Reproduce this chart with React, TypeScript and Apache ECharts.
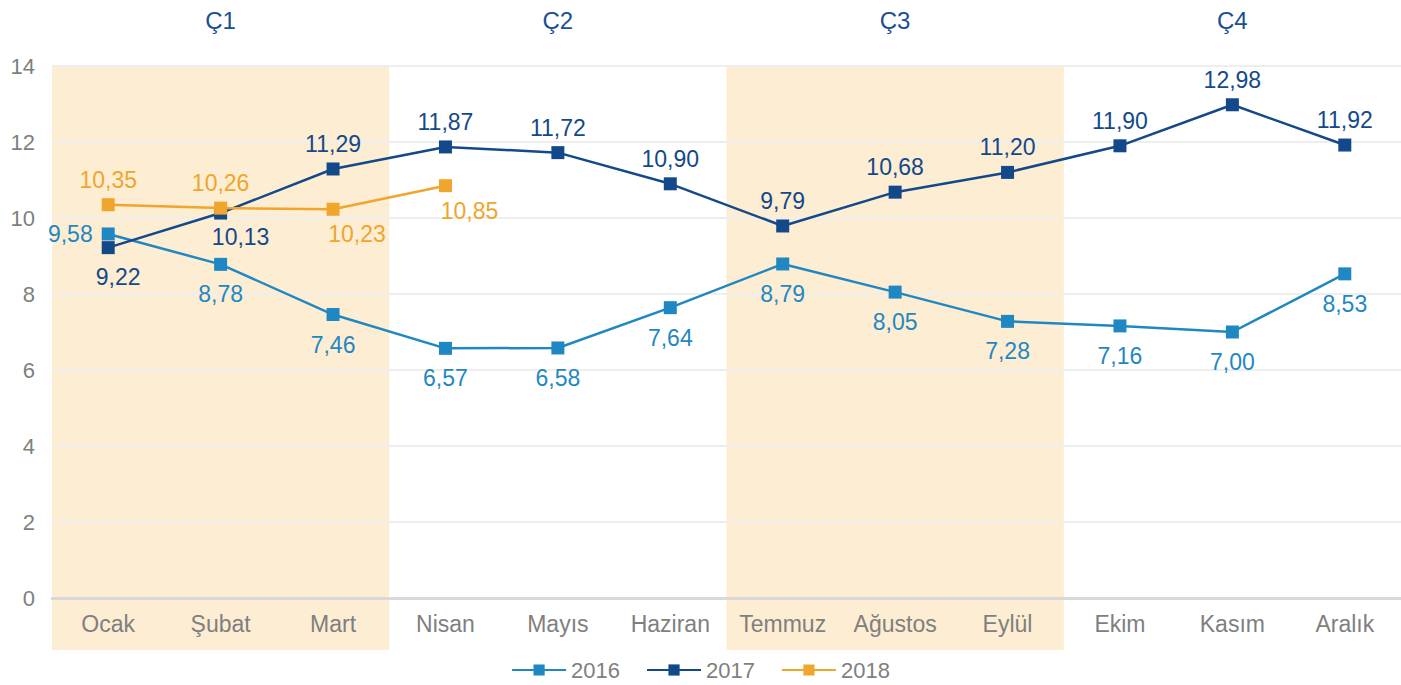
import React, { useEffect, useRef } from "react";
import * as echarts from "echarts";

const months = ["Ocak", "Şubat", "Mart", "Nisan", "Mayıs", "Haziran", "Temmuz", "Ağustos", "Eylül", "Ekim", "Kasım", "Aralık"];
const quarters = ["Ç1", "Ç2", "Ç3", "Ç4"];
const s2016 = [9.58, 8.78, 7.46, 6.57, 6.58, 7.64, 8.79, 8.05, 7.28, 7.16, 7.0, 8.53];
const s2017 = [9.22, 10.13, 11.29, 11.87, 11.72, 10.9, 9.79, 10.68, 11.2, 11.9, 12.98, 11.92];
const s2018 = [10.35, 10.26, 10.23, 10.85];
const shadedQuarters = [[0, 2], [6, 8]];

const C16 = "#1f88c2";
const C17 = "#13498a";
const C18 = "#f0a52c";
const GRAY = "#7f7f7f";
const FONT = "'Liberation Sans', Arial, Helvetica, sans-serif";
const FS = 23;

const fmt = (p: any) => {
  const v = Array.isArray(p.value) ? p.value[1] : p.value;
  return Number(v).toFixed(2).replace(".", ",");
};

export default function App() {
  const ref = useRef<HTMLDivElement>(null);
  useEffect(() => {
    document.body.style.margin = "0";
    const chart = echarts.init(ref.current!, undefined, { renderer: "svg" });
    const lbl = (color: string) => ({ show: true, color, fontSize: FS, fontFamily: FONT, formatter: fmt });
    const d16 = s2016.map((v, i) =>
      i === 0 ? { value: v, label: { position: "left", distance: 9 } } : { value: v }
    );
    const d17 = s2017.map((v, i) =>
      i === 0
        ? { value: v, label: { position: "bottom", distance: 11, offset: [10, 0] } }
        : i === 1
        ? { value: v, label: { position: "bottom", distance: 6, offset: [20, 0] } }
        : { value: v }
    );
    const d18 = s2018.map((v, i) =>
      i >= 2 ? { value: v, label: { position: "bottom", distance: 7, offset: [24, 0] } } : { value: v }
    );
    chart.setOption({
      animation: false,
      textStyle: { fontFamily: FONT },
      grid: { left: 52, right: 0, top: 66, bottom: 87, containLabel: false },
      legend: {
        top: 658,
        left: "center",
        itemWidth: 54,
        itemHeight: 14,
        itemGap: 26,
        padding: 0,
        textStyle: { color: GRAY, fontSize: 22, fontFamily: FONT, lineHeight: 24 },
        data: ["2016", "2017", "2018"],
      },
      xAxis: [
        {
          type: "category",
          data: months,
          axisLine: { show: true, lineStyle: { color: "#d9d9d9", width: 3 } },
          axisTick: { show: false },
          axisLabel: { color: GRAY, fontSize: FS, margin: 14, fontFamily: FONT, interval: 0 },
          splitLine: { show: false },
        },
        {
          type: "category",
          position: "top",
          data: quarters,
          axisLine: { show: false },
          axisTick: { show: false },
          axisLabel: { color: "#1a4f93", fontSize: 24, margin: 34, fontFamily: FONT, interval: 0 },
          splitLine: { show: false },
        },
      ],
      yAxis: {
        type: "value",
        min: 0,
        max: 14,
        interval: 2,
        axisLine: { show: false },
        axisTick: { show: false },
        axisLabel: { color: GRAY, fontSize: 22, margin: 17, fontFamily: FONT },
        splitLine: { lineStyle: { color: "#eeeeee", width: 2 } },
      },
      series: [
        {
          name: "2016",
          type: "line",
          data: d16,
          color: C16,
          symbol: "rect",
          symbolSize: 13,
          lineStyle: { width: 2.5, color: C16 },
          label: { ...lbl(C16), position: "bottom", distance: 12 },
          z: 3,
        },
        {
          name: "2017",
          type: "line",
          data: d17,
          color: C17,
          symbol: "rect",
          symbolSize: 13,
          lineStyle: { width: 2.5, color: C17 },
          label: { ...lbl(C17), position: "top", distance: 7 },
          z: 4,
        },
        {
          name: "2018",
          type: "line",
          data: d18,
          color: C18,
          symbol: "rect",
          symbolSize: 13,
          lineStyle: { width: 2.5, color: C18 },
          label: { ...lbl(C18), position: "top", distance: 7 },
          z: 5,
        },
      ],
    });
    const c0 = chart.convertToPixel({ xAxisIndex: 0 }, 0) as number;
    const c1 = chart.convertToPixel({ xAxisIndex: 0 }, 1) as number;
    const band = c1 - c0;
    const yTop = chart.convertToPixel({ yAxisIndex: 0 }, 14) as number;
    const yZero = chart.convertToPixel({ yAxisIndex: 0 }, 0) as number;
    const yBot = yZero + 52;
    chart.setOption({
      graphic: shadedQuarters.map(([a, b]) => {
        const xa = (chart.convertToPixel({ xAxisIndex: 0 }, a) as number) - band / 2;
        const xb = (chart.convertToPixel({ xAxisIndex: 0 }, b) as number) + band / 2;
        return {
          type: "rect",
          silent: true,
          z: -10,
          shape: { x: xa, y: yTop, width: xb - xa, height: yBot - yTop },
          style: { fill: "#fdedd2" },
        };
      }),
    });
    return () => chart.dispose();
  }, []);
  return <div ref={ref} style={{ width: 1401, height: 685 }} />;
}
